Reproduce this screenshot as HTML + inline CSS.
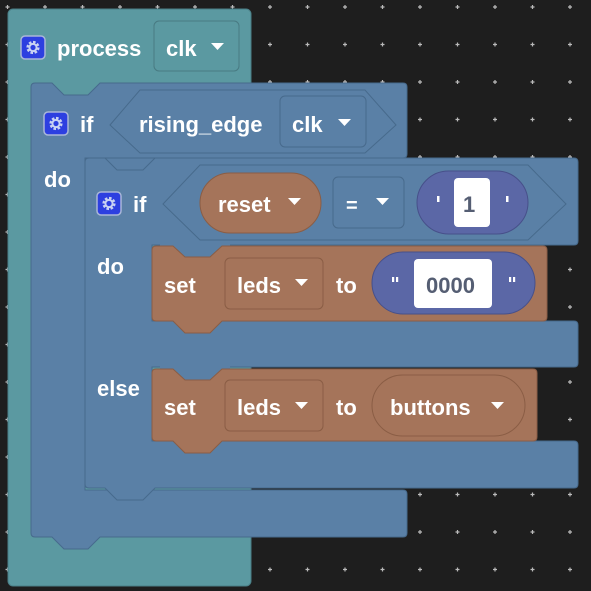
<!DOCTYPE html>
<html><head><meta charset="utf-8"><style>
html,body{margin:0;padding:0;background:#1e1e1e;width:591px;height:591px;overflow:hidden}
svg{display:block}
text{font-family:"Liberation Sans",sans-serif;font-weight:bold;font-size:22px;fill:#fff}
</style></head><body>
<svg width="591" height="591" viewBox="0 0 591 591" xmlns="http://www.w3.org/2000/svg">
<defs>
<pattern id="g" x="7.5" y="7" width="37.5" height="37.5" patternUnits="userSpaceOnUse">
<path d="M0,-2V2M-2,0H2" stroke="#bbb" stroke-width="1.2"/>
<path d="M37.5,-2V2M35.5,0H39.5M0,35.5V39.5M-2,37.5H2M37.5,35.5V39.5M35.5,37.5H39.5" stroke="#bbb" stroke-width="1.2"/>
</pattern>
<g id="icon">
<rect x="0" y="0" width="24" height="23" rx="4" fill="#2d3fe0" stroke="#a9b6d8" stroke-width="1.5"/>
<circle cx="12" cy="11.5" r="5" fill="none" stroke="#c9d2f2" stroke-width="3.2" stroke-dasharray="2.4 1.5"/>
<circle cx="12" cy="11.5" r="3.6" fill="none" stroke="#c9d2f2" stroke-width="2"/>
</g>
</defs>
<rect width="591" height="591" fill="#1e1e1e"/>
<rect width="591" height="591" fill="url(#g)"/>

<!-- process -->
<rect x="8" y="9" width="243" height="577" rx="5" fill="#5b99a1" stroke="#4a7f87"/>
<use href="#icon" x="21" y="36"/>
<text x="57" y="56">process</text>
<rect x="154" y="21" width="85" height="50" rx="5" fill="#5b99a1" stroke="#487a82"/>
<text x="166" y="56">clk</text>
<path d="M211,43h13l-6.5,7z" fill="#fff"/>

<!-- outer if -->
<rect x="84" y="156" width="80" height="20" fill="#5a80a6"/>
<path d="M31,87Q31,83 35,83H52L64,95H88L100,83H403Q407,83 407,87V154Q407,158 403,158H85V490H403Q407,490 407,494V533Q407,537 403,537H100L88,549H64L52,537H35Q31,537 31,533Z" fill="#5a80a6" stroke="#476a8c"/>
<use href="#icon" x="44" y="112"/>
<text x="80" y="132">if</text>
<path d="M110,125L140,90H365L396,125L365,153H140Z" fill="#5a80a6" stroke="#476a8c"/>
<text x="139" y="132">rising_edge</text>
<rect x="280" y="96" width="86" height="51" rx="5" fill="#5a80a6" stroke="#476a8c"/>
<text x="292" y="132">clk</text>
<path d="M338,119h13l-6.5,7z" fill="#fff"/>
<text x="44" y="187">do</text>

<!-- inner if -->
<path d="M85,162Q85,158 89,158H105L117,170H143L155,158H574Q578,158 578,162V241Q578,245 574,245H152V321H574Q578,321 578,325V363Q578,367 574,367H152V441H574Q578,441 578,445V484Q578,488 574,488H155L143,500H117L105,488H89Q85,488 85,484Z" fill="#5a80a6" stroke="#476a8c"/>
<rect x="160" y="244" width="70" height="16" fill="#5a80a6"/>
<rect x="160" y="366" width="70" height="16" fill="#5a80a6"/>
<use href="#icon" x="97" y="192"/>
<text x="133" y="212">if</text>
<path d="M163,204L200,165H528L566,204L528,240H200Z" fill="#5a80a6" stroke="#476a8c"/>
<rect x="200" y="173" width="121" height="60" rx="30" fill="#a5745a" stroke="#8a5d45"/>
<text x="218" y="212">reset</text>
<path d="M288,198h13l-6.5,7z" fill="#fff"/>
<rect x="333" y="177" width="71" height="51" rx="5" fill="#5a80a6" stroke="#476a8c"/>
<text x="346" y="212" style="font-size:20px">=</text>
<path d="M376,198h13l-6.5,7z" fill="#fff"/>
<rect x="417" y="171" width="111" height="63" rx="31.5" fill="#5b67a6" stroke="#47508a"/>
<rect x="454" y="178" width="36" height="49" rx="4" fill="#fff"/>
<text x="463" y="212" style="fill:#555e73">1</text>
<rect x="437" y="196" width="2.5" height="6" fill="#fff"/>
<rect x="506" y="196" width="2.5" height="6" fill="#fff"/>
<text x="97" y="274">do</text>
<text x="97" y="396">else</text>

<!-- set 1 -->
<path d="M152,250Q152,246 156,246H173L185,257H210L222,246H543Q547,246 547,250V317Q547,321 543,321H222L210,333H185L173,321H156Q152,321 152,317Z" fill="#a5745a" stroke="#8a5d45"/>
<text x="164" y="293">set</text>
<rect x="225" y="258" width="98" height="51" rx="5" fill="#a5745a" stroke="#8a5d45"/>
<text x="237" y="293">leds</text>
<path d="M295,279h13l-6.5,7z" fill="#fff"/>
<text x="336" y="293">to</text>
<rect x="372" y="252" width="163" height="62" rx="31" fill="#5b67a6" stroke="#47508a"/>
<rect x="414" y="259" width="78" height="49" rx="4" fill="#fff"/>
<text x="426" y="293" style="fill:#555e73">0000</text>
<rect x="392" y="277" width="2.2" height="5" fill="#fff"/><rect x="396" y="277" width="2.2" height="5" fill="#fff"/>
<rect x="509" y="277" width="2.2" height="5" fill="#fff"/><rect x="513" y="277" width="2.2" height="5" fill="#fff"/>

<!-- set 2 -->
<path d="M152,373Q152,369 156,369H173L185,380H210L222,369H533Q537,369 537,373V437Q537,441 533,441H222L210,453H185L173,441H156Q152,441 152,437Z" fill="#a5745a" stroke="#8a5d45"/>
<text x="164" y="415">set</text>
<rect x="225" y="380" width="98" height="51" rx="5" fill="#a5745a" stroke="#8a5d45"/>
<text x="237" y="415">leds</text>
<path d="M295,402h13l-6.5,7z" fill="#fff"/>
<text x="336" y="415">to</text>
<rect x="372" y="375" width="153" height="61" rx="30.5" fill="#a5745a" stroke="#8a5d45"/>
<text x="390" y="415">buttons</text>
<path d="M491,402h13l-6.5,7z" fill="#fff"/>
</svg>
</body></html>
